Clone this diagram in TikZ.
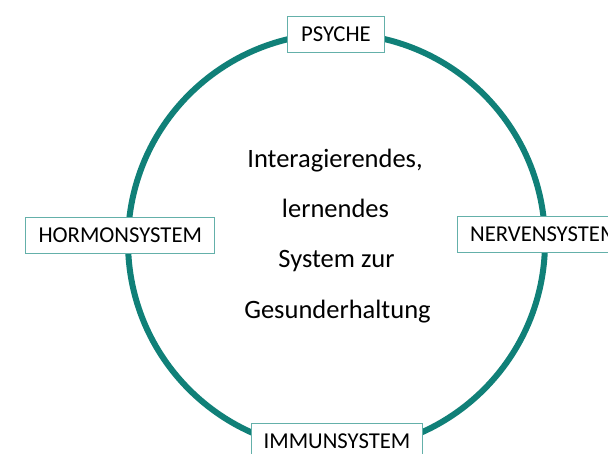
\documentclass[tikz,border=0pt]{standalone}
\usepackage{fontspec}
\setmainfont{Carlito}
\definecolor{ringteal}{RGB}{16,128,120}
\definecolor{boxteal}{RGB}{100,176,170}
\begin{document}
\begin{tikzpicture}[x=1pt,y=-1pt,
  labelbox/.style={draw=boxteal, line width=1pt, fill=white, inner sep=0pt,
    text height=25pt, text depth=11pt, anchor=north west,
    font=\fontsize{22.7}{27}\selectfont},
  centertext/.style={anchor=base, inner sep=0pt, font=\fontsize{26.5}{32}\selectfont},
  ringline/.style={draw=ringteal, line width=6pt}]
\useasboundingbox (0,0) rectangle (608,454);
\clip (0,0) rectangle (608,454);
\fill[white] (0,0) rectangle (608,454);
\node[ringline, circle, minimum size=417pt, inner sep=0pt] (ring) at (336.5,242) {};
\node[labelbox, minimum width=97.6pt] (psyche) at (286.7,15.7) {PSYCHE};
\node[labelbox, minimum width=189pt] (hormon) at (25.3,217.3) {HORMONSYSTEM};
\node[labelbox, minimum width=174pt] (nerven) at (457.3,216) {NERVENSYSTEM};
\node[labelbox, minimum width=170.4pt] (immun) at (251.3,423.3) {IMMUNSYSTEM};
\node[centertext] (t1) at (335,168) {Interagierendes,};
\node[centertext] (t2) at (335.5,218) {lernendes};
\node[centertext] (t3) at (336.5,268) {System zur};
\node[centertext] (t4) at (337.5,319) {Gesunderhaltung};
\end{tikzpicture}
\end{document}
